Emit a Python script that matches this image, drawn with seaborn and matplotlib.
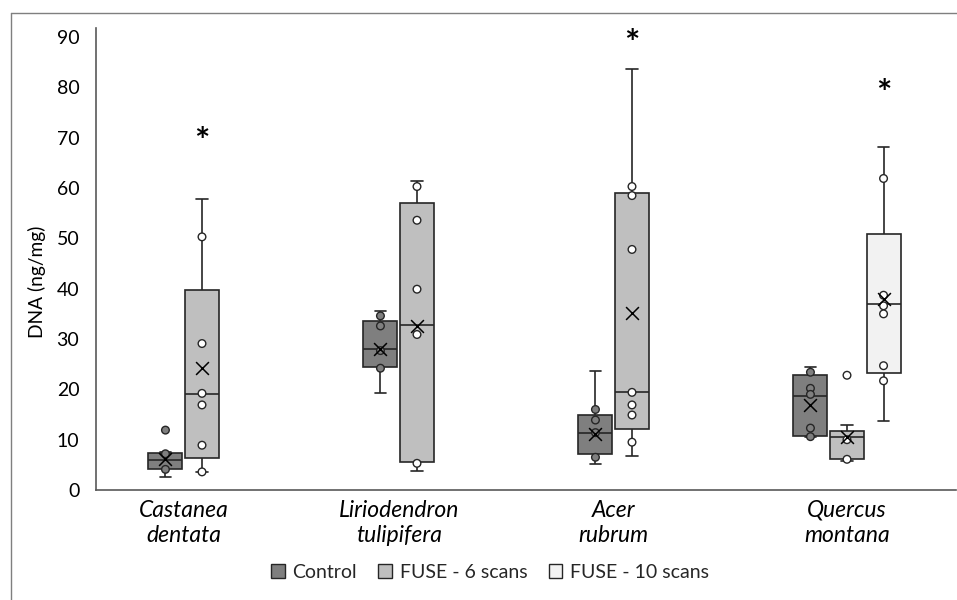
import pandas as pd
import matplotlib
matplotlib.use("Agg")
import matplotlib.pyplot as plt
from matplotlib.patches import Patch
from matplotlib.lines import Line2D
import seaborn as sns

# Categories and series
species = ["Castanea", "Liriodendron", "Acer", "Quercus"]
species_labels = ["Castanea\ndentata", "Liriodendron\ntulipifera", "Acer\nrubrum", "Quercus\nmontana"]
series = ["Control", "FUSE - 6 scans", "FUSE - 10 scans"]

# One entry per box
box_species = ["Castanea", "Castanea", "Liriodendron", "Liriodendron", "Acer", "Acer",
               "Quercus", "Quercus", "Quercus"]
box_series = ["Control", "FUSE - 6 scans", "Control", "FUSE - 6 scans", "Control", "FUSE - 6 scans",
              "Control", "FUSE - 6 scans", "FUSE - 10 scans"]
whisker_low = [2.6, 3.6, 19.2, 3.8, 5.1, 6.8, 10.6, 5.7, 13.8]
q1 = [4.1, 6.3, 24.4, 5.5, 7.2, 12.1, 10.8, 6.2, 23.2]
median = [6.0, 19.1, 28.1, 32.8, 11.3, 19.5, 18.7, 10.5, 36.9]
q3 = [7.3, 39.7, 33.6, 57.1, 15.0, 59.1, 22.8, 11.8, 50.9]
whisker_high = [7.5, 57.9, 35.6, 61.3, 23.6, 83.6, 24.5, 12.9, 68.2]
means = [6.1, 24.2, 28.1, 32.5, 11.2, 35.1, 16.9, 10.5, 37.9]
points = [
    [11.9, 7.2, 4.1],
    [50.3, 29.1, 19.2, 16.9, 8.9, 3.6],
    [34.6, 32.6, 27.7, 24.2],
    [60.3, 53.6, 39.9, 30.9, 5.3],
    [16.0, 13.9, 11.4, 6.5],
    [60.3, 58.5, 47.8, 19.4, 16.9, 14.9, 9.5],
    [23.4, 20.2, 19.0, 12.3, 10.6],
    [22.8, 10.0, 6.1],
    [61.9, 38.7, 36.6, 35.0, 24.7, 21.7],
]

# Significance stars
star_species = ["Castanea", "Acer", "Quercus"]
star_series = ["FUSE - 6 scans", "FUSE - 6 scans", "FUSE - 10 scans"]
star_values = [70.9, 90.4, 80.5]

fill_colors = {"Control": "#7f7f7f", "FUSE - 6 scans": "#bfbfbf", "FUSE - 10 scans": "#f2f2f2"}
dot_colors = {"Control": "#7f7f7f", "FUSE - 6 scans": "#ffffff", "FUSE - 10 scans": "#ffffff"}
line_color = "#262626"

sns.set_theme(style="white")
plt.rcParams["font.family"] = ["Lato", "DejaVu Sans"]

slot = 0.17
box_w = 0.93


def xpos(sp, se):
    return species.index(sp) + (series.index(se) - 1) * slot


box_rows, dot_rows = [], []
for i, (sp, se) in enumerate(zip(box_species, box_series)):
    x = xpos(sp, se)
    for v in (whisker_low[i], q1[i], median[i], q3[i], whisker_high[i]):
        box_rows.append({"x": x, "series": se, "value": v})
    for v in points[i]:
        dot_rows.append({"x": x, "series": se, "value": v})
box_df = pd.DataFrame(box_rows)
dot_df = pd.DataFrame(dot_rows)
mean_df = pd.DataFrame({"x": [xpos(a, b) for a, b in zip(box_species, box_series)], "value": means})

fig = plt.figure(figsize=(9.57, 6.0), dpi=100)
ax = fig.add_axes([96 / 957, 1 - 490 / 600, 860 / 957, 462 / 600])

sns.boxplot(data=box_df, x="x", y="value", hue="series", hue_order=series, native_scale=True,
            dodge=False, orient="x", whis=(0, 100), width=box_w, palette=fill_colors, saturation=1,
            linecolor=line_color, linewidth=1.2, legend=False, ax=ax)

# Excel-style short whisker caps
full_cap = 0.5 * box_w * slot
for ln in ax.lines:
    xd, yd = ln.get_xdata(), ln.get_ydata()
    if len(xd) == 2 and yd[0] == yd[1] and abs(abs(xd[1] - xd[0]) - full_cap) < 1e-3:
        c = (xd[0] + xd[1]) / 2
        ln.set_xdata([c - full_cap * 0.33, c + full_cap * 0.33])

sns.stripplot(data=dot_df, x="x", y="value", hue="series", hue_order=series, native_scale=True,
              dodge=False, orient="x", jitter=False, palette=dot_colors, size=5.5,
              edgecolor=line_color, linewidth=1.0, legend=False, zorder=3, ax=ax)
sns.scatterplot(data=mean_df, x="x", y="value", marker="x", color="black", s=85,
                linewidth=1.1, zorder=4, legend=False, ax=ax)

for sp, se, v in zip(star_species, star_series, star_values):
    ax.annotate("*", (xpos(sp, se), v), xytext=(0, -7), textcoords="offset points",
                ha="center", va="center", fontsize=26, fontweight="bold", color="black")

# labels centred under the boxes that are present
tick_pos = []
for sp in species:
    xs = [xpos(a, b) for a, b in zip(box_species, box_series) if a == sp]
    tick_pos.append(sum(xs) / len(xs))
ax.set_xticks(tick_pos)
ax.set_xticklabels(species_labels, fontstyle="italic", fontsize=16.5, color="black", linespacing=1.25)
ax.set_xlim(-0.493, 3.507)
ax.set_ylim(0, 91.8)
ax.set_yticks(range(0, 91, 10))
ax.tick_params(axis="y", labelsize=14, labelcolor="black", length=0, pad=12)
ax.tick_params(axis="x", length=0, pad=7)
ax.set_xlabel("")
ax.set_ylabel("DNA (ng/mg)", fontsize=13.8, color="black")
ax.yaxis.set_label_coords(-0.058, 0.45)

for s in ["top", "right"]:
    ax.spines[s].set_visible(False)
for s in ["left", "bottom"]:
    ax.spines[s].set_color("#595959")
    ax.spines[s].set_linewidth(1.2)

handles = [Patch(facecolor=fill_colors[s], edgecolor=line_color, linewidth=1.0, label=s) for s in series]
fig.legend(handles=handles, loc="center", bbox_to_anchor=(490 / 957, 1 - 572 / 600), ncol=3,
           frameon=False, fontsize=14, handlelength=0.7, handleheight=0.7, handletextpad=0.4,
           columnspacing=1.1)

# outer chart frame
fig.add_artist(Line2D([10.5 / 957, 10.5 / 957], [0, 1 - 12.5 / 600], transform=fig.transFigure,
                      color="#7f7f7f", linewidth=1.0))
fig.add_artist(Line2D([10.5 / 957, 1], [1 - 12.5 / 600, 1 - 12.5 / 600], transform=fig.transFigure,
                      color="#7f7f7f", linewidth=1.0))

fig.savefig("out.png", dpi=100)
